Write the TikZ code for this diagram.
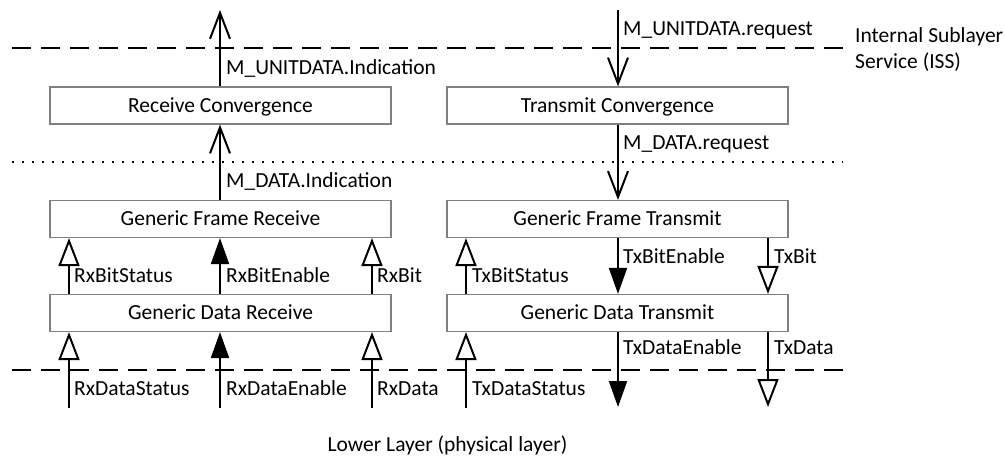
\documentclass[tikz,border=0pt]{standalone}
\usepackage{fontspec}
\setmainfont{Carlito}
\usetikzlibrary{arrows.meta}
\definecolor{boxgray}{RGB}{128,128,128}
\tikzset{
  blk/.style={draw=boxgray, line width=1.2pt, minimum width=341pt, minimum height=37pt,
    inner sep=0pt, text height=13.5pt, text depth=0pt, font=\fontsize{21.5}{25}\selectfont},
  lbl/.style={anchor=west, inner sep=0pt, text height=13.5pt, text depth=0pt, font=\fontsize{21.5}{25}\selectfont},
  vee/.style={line width=2pt, -{Straight Barb[length=26pt, width=20pt, line width=2pt]}},
  opentri/.style={line width=2pt, -{Triangle[open, length=28pt, width=21pt, line width=2pt]}},
  filltri/.style={line width=2pt, -{Triangle[length=26pt, width=18pt]}},
  dashline/.style={line width=2pt, dash pattern=on 19pt off 10pt},
  dotline/.style={line width=1.5pt, dash pattern=on 1.5pt off 8.5pt}
}
\begin{document}
\begin{tikzpicture}[x=1pt, y=-1pt]
\useasboundingbox (0,0) rectangle (1005,457);
% layer lines
\draw[dashline] (12,48) -- (843,48);
\draw[dotline] (12,162) -- (843,162);
\draw[dashline] (12,370) -- (843,370);
% boxes
\node[blk] (rc)  at (220.5,105.5) {Receive Convergence};
\node[blk] (tc)  at (617.5,105.5) {Transmit Convergence};
\node[blk] (gfr) at (220.5,219) {Generic Frame Receive};
\node[blk] (gft) at (617.5,219) {Generic Frame Transmit};
\node[blk] (gdr) at (220.5,313) {Generic Data Receive};
\node[blk] (gdt) at (617.5,313) {Generic Data Transmit};
% x positions
\coordinate (xa) at (69,0);
\coordinate (xb) at (220,0);
\coordinate (xc) at (372,0);
\coordinate (xd) at (466,0);
\coordinate (xe) at (618,0);
\coordinate (xf) at (768,0);
% free ends
\coordinate (topL) at (220,10);
\coordinate (topR) at (618,10);
\coordinate (bA) at (69,408);
\coordinate (bB) at (220,408);
\coordinate (bC) at (372,408);
\coordinate (bD) at (466,408);
\coordinate (bE) at (618,407);
\coordinate (bF) at (768,407);
% receive side
\draw[vee] (rc.north -| xb) -- (topL);
\draw[vee] (gfr.north -| xb) -- (rc.south -| xb);
\draw[opentri] (gdr.north -| xa) -- (gfr.south -| xa);
\draw[filltri] (gdr.north -| xb) -- (gfr.south -| xb);
\draw[opentri] (gdr.north -| xc) -- (gfr.south -| xc);
\draw[opentri] (bA) -- (gdr.south -| xa);
\draw[filltri] (bB) -- (gdr.south -| xb);
\draw[opentri] (bC) -- (gdr.south -| xc);
% transmit side
\draw[vee] (topR) -- (tc.north -| xe);
\draw[vee] (tc.south -| xe) -- (gft.north -| xe);
\draw[opentri] (gdt.north -| xd) -- (gft.south -| xd);
\draw[filltri] (gft.south -| xe) -- (gdt.north -| xe);
\draw[opentri] (gft.south -| xf) -- (gdt.north -| xf);
\draw[opentri] (bD) -- (gdt.south -| xd);
\draw[filltri] (gdt.south -| xe) -- (bE);
\draw[opentri] (gdt.south -| xf) -- (bF);
% labels
\node[lbl] (l1) at (226,68) {M\_UNITDATA.Indication};
\node[lbl] (l2) at (226,181) {M\_DATA.Indication};
\node[lbl] (l3) at (623,29) {M\_UNITDATA.request};
\node[lbl] (l4) at (623,143) {M\_DATA.request};
\node[lbl] (l5) at (74,276) {RxBitStatus};
\node[lbl] (l6) at (226,276) {RxBitEnable};
\node[lbl] (l7) at (377,276) {RxBit};
\node[lbl] (l8) at (74,389) {RxDataStatus};
\node[lbl] (l9) at (226,389) {RxDataEnable};
\node[lbl] (l10) at (377,389) {RxData};
\node[lbl] (l11) at (472,276) {TxBitStatus};
\node[lbl] (l12) at (623,257) {TxBitEnable};
\node[lbl] (l13) at (774,257) {TxBit};
\node[lbl] (l14) at (472,389) {TxDataStatus};
\node[lbl] (l15) at (623,348) {TxDataEnable};
\node[lbl] (l16) at (774,348) {TxData};
\node[lbl] (iss1) at (855,36) {Internal Sublayer};
\node[lbl] (iss2) at (855,62) {Service (ISS)};
\node[lbl, anchor=center] (ll) at (447.5,445) {Lower Layer (physical layer)};
\end{tikzpicture}
\end{document}
